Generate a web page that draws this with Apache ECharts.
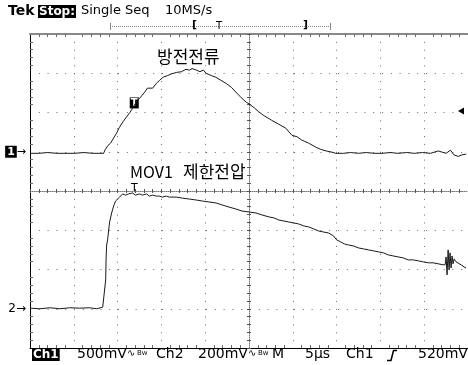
<!DOCTYPE html>
<html>
<head>
<meta charset="utf-8">
<script src="https://cdn.jsdelivr.net/npm/echarts@6/dist/echarts.min.js"></script>
<style>
    html, body { margin: 0; padding: 0; background: #fff; }
    #scope { width: 468px; height: 365px; }
</style>
</head>
<body>
<div id="scope"></div>
<script>
// Ch1 = 방전전류 (discharge current), Ch2 = MOV1 제한전압; time in µs from left edge of screen
const ch1Time = [0, 1.0, 2.0, 3.1, 4.1, 5.1, 6.1, 7.2, 8.0, 8.4,
    8.6, 8.9, 9.2, 9.4, 9.9, 10.2, 10.6, 11.0, 11.4, 11.7,
    12.0, 12.5, 12.8, 13.1, 13.4, 13.6, 14.0, 14.2, 14.5, 14.8,
    15.2, 15.7, 16.1, 16.7, 17.3, 17.8, 18.2, 18.5, 19.0, 19.4,
    19.8, 20.1, 20.7, 21.2, 21.8, 22.4, 23.0, 23.5, 24.1, 24.7,
    25.0, 25.6, 26.1, 26.7, 27.3, 27.6, 28.4, 29.2, 29.9, 30.5,
    31.0, 31.8, 32.6, 33.2, 33.8, 34.3, 34.9, 35.8, 36.6, 37.5,
    38.4, 39.3, 40.2, 41.1, 42.0, 43.0, 43.9, 44.8, 45.7, 46.6,
    47.5, 48.0, 48.4, 48.9, 49.3, 49.8];
const ch1Volt = [-0.02, -0.02, -0.01, -0.02, -0.02, -0.02, -0.01, -0.02, -0.02, -0.02,
    0.03, 0.08, 0.11, 0.13, 0.24, 0.31, 0.38, 0.44, 0.50, 0.55,
    0.61, 0.68, 0.72, 0.76, 0.81, 0.82, 0.81, 0.83, 0.88, 0.91,
    0.95, 0.97, 0.99, 1.01, 1.02, 1.05, 1.04, 1.06, 1.04, 1.02,
    1.04, 1.00, 0.97, 0.95, 0.91, 0.87, 0.82, 0.76, 0.69, 0.63,
    0.61, 0.56, 0.51, 0.46, 0.42, 0.40, 0.35, 0.30, 0.21, 0.19,
    0.15, 0.11, 0.06, 0.03, 0.01, 0.00, -0.02, -0.02, -0.01, -0.02,
    -0.01, -0.02, -0.02, -0.01, -0.02, -0.01, -0.02, -0.01, -0.02, 0.01,
    -0.02, 0.02, -0.04, -0.06, -0.04, -0.03];

const ch2Time = [0.0, 1.14, 2.27, 3.41, 4.55, 5.68, 6.82, 7.61, 8.30, 8.52,
    8.64, 8.69, 8.75, 8.86, 8.98, 9.09, 9.32, 9.55, 9.77, 10.0,
    10.23, 10.57, 10.91, 11.25, 11.70, 12.05, 12.5, 12.84, 13.30, 13.64,
    13.98, 14.43, 14.77, 15.11, 15.57, 15.91, 16.70, 17.39, 18.18, 18.98,
    19.66, 20.45, 21.25, 21.93, 22.73, 23.52, 24.20, 25.0, 25.80, 26.48,
    27.27, 27.84, 28.41, 28.98, 29.55, 30.11, 30.68, 31.25, 31.82, 32.39,
    32.95, 33.52, 34.09, 34.66, 35.0, 35.45, 35.91, 36.36, 36.93, 37.5,
    38.07, 38.64, 39.20, 39.77, 40.34, 40.91, 41.48, 42.05, 42.61, 43.18,
    43.75, 44.32, 44.89, 45.45, 46.02, 46.59, 47.16, 47.39, 47.5, 47.61,
    47.73, 47.84, 47.95, 48.07, 48.18, 48.30, 48.41, 48.64, 48.86, 49.20,
    49.55, 49.77];
const ch2Volt = [0.003, 0.0, 0.005, 0.0, 0.005, 0.003, 0.005, 0.0, 0.008, 0.005,
    0.147, 0.259, 0.325, 0.351, 0.401, 0.442, 0.488, 0.524, 0.549, 0.559,
    0.569, 0.585, 0.579, 0.585, 0.590, 0.579, 0.585, 0.579, 0.585, 0.574,
    0.579, 0.574, 0.574, 0.569, 0.574, 0.569, 0.569, 0.564, 0.559, 0.554,
    0.549, 0.544, 0.539, 0.529, 0.518, 0.508, 0.498, 0.493, 0.488, 0.478,
    0.468, 0.463, 0.452, 0.447, 0.442, 0.437, 0.432, 0.422, 0.417, 0.407,
    0.396, 0.391, 0.386, 0.371, 0.351, 0.341, 0.330, 0.325, 0.320, 0.310,
    0.305, 0.300, 0.295, 0.290, 0.285, 0.274, 0.269, 0.264, 0.259, 0.249,
    0.249, 0.244, 0.239, 0.234, 0.234, 0.229, 0.224, 0.224, 0.264, 0.173,
    0.300, 0.198, 0.285, 0.208, 0.269, 0.229, 0.254, 0.239, 0.234, 0.224,
    0.213, 0.208];

// scope settings (500mV/div, 200mV/div, 5µs/div)
const ch1Range = [-2.5, 1.5];
const ch1Step = 0.5;
const ch2Range = [-0.2, 1.4];
const ch2Step = 0.2;
const timeRange = [0, 50];
const trigTime = 11.9;
const trigLevel = 0.52;
const ch2AtTrig = 0.585;

const myScope = echarts.init(document.getElementById('scope'));

const FONT = '"DejaVu Sans", sans-serif';
const KR = '"Noto Sans CJK KR", sans-serif';
const dotColor = '#6a6a6a';

// frame / graticule axes (divisions)
function divAxis(extra) {
    return Object.assign({
        type: 'value',
        axisLabel: {show: false},
        axisTick: {show: false},
        splitLine: {show: false},
        minorTick: {show: false},
        minorSplitLine: {show: false}
    }, extra);
}

let option = {
    animation: false,
    backgroundColor: '#fff',
    grid: {left: 30, top: 34, width: 440, height: 314},
    xAxis: [
        divAxis({ // bottom frame + vertical dotted lines
            min: -5, max: 5, interval: 1, position: 'bottom',
            axisLine: {onZero: false, lineStyle: {color: '#000', width: 1}},
            axisTick: {show: false, inside: true},
            minorTick: {show: true, splitNumber: 5, length: 3, lineStyle: {color: dotColor}},
            splitLine: {show: true, lineStyle: {color: dotColor, width: 1, type: [1, 6.85]}}
        }),
        divAxis({ // top frame
            min: -5, max: 5, interval: 1, position: 'top',
            axisLine: {onZero: false, lineStyle: {color: '#888', width: 2}},
            axisTick: {show: false, inside: true},
            minorTick: {show: true, splitNumber: 5, length: 3, lineStyle: {color: dotColor}}
        }),
        divAxis({ // center horizontal line
            min: -5, max: 5, interval: 1, position: 'bottom',
            axisLine: {onZero: true, onZeroAxisIndex: 0, lineStyle: {color: '#777', width: 1, type: [1, 1]}},
            axisTick: {show: true, length: 2, lineStyle: {color: '#555'}},
            minorTick: {show: true, splitNumber: 5, length: 2, lineStyle: {color: '#555'}}
        }),
        divAxis({
            min: -5, max: 5, interval: 1, position: 'bottom',
            axisLine: {show: false, onZero: true, onZeroAxisIndex: 0},
            axisTick: {show: true, inside: true, length: 2, lineStyle: {color: '#555'}},
            minorTick: {show: true, splitNumber: 5, length: 2, lineStyle: {color: '#555'}}
        }),
        { // time axis for the traces
            type: 'value', min: timeRange[0], max: timeRange[1], show: false
        }
    ],
    yAxis: [
        divAxis({ // left frame + horizontal dotted lines
            min: -4, max: 4, interval: 1, position: 'left',
            axisLine: {onZero: false, lineStyle: {color: '#000', width: 1}},
            axisTick: {show: false, inside: true},
            minorTick: {show: true, splitNumber: 5, length: 3, lineStyle: {color: dotColor}},
            splitLine: {show: true, lineStyle: {color: dotColor, width: 1, type: [1, 7.8]}}
        }),
        divAxis({ // center vertical line
            min: -4, max: 4, interval: 1, position: 'left',
            axisLine: {onZero: true, onZeroAxisIndex: 0, lineStyle: {color: '#777', width: 1, type: [1, 1]}},
            axisTick: {show: true, length: 2, lineStyle: {color: '#555'}},
            minorTick: {show: true, splitNumber: 5, length: 2, lineStyle: {color: '#555'}}
        }),
        divAxis({
            min: -4, max: 4, interval: 1, position: 'left',
            axisLine: {show: false, onZero: true, onZeroAxisIndex: 0},
            axisTick: {show: true, inside: true, length: 2, lineStyle: {color: '#555'}},
            minorTick: {show: true, splitNumber: 5, length: 2, lineStyle: {color: '#555'}}
        }),
        { // Ch1 volts, ground marker "1→"
            type: 'value', min: ch1Range[0], max: ch1Range[1], interval: ch1Step, position: 'left',
            axisLine: {show: false, onZero: false}, axisTick: {show: false}, splitLine: {show: false},
            axisLabel: {
                margin: 4,
                formatter: v => Math.abs(v) < 1e-6 ? '{b|1}→' : '',
                color: '#000', fontFamily: FONT, fontSize: 11,
                rich: {b: {backgroundColor: '#000', color: '#fff', fontWeight: 'bold', fontSize: 11, padding: [1, 2, 0, 2], fontFamily: FONT}}
            }
        },
        { // Ch2 volts, ground marker "2→"
            type: 'value', min: ch2Range[0], max: ch2Range[1], interval: ch2Step, position: 'left',
            axisLine: {show: false, onZero: false}, axisTick: {show: false}, splitLine: {show: false},
            axisLabel: {
                margin: 4,
                formatter: v => Math.abs(v) < 1e-6 ? '2→' : '',
                color: '#000', fontFamily: FONT, fontSize: 12
            }
        }
    ],
    series: [
        {
            name: 'Ch1',
            type: 'line',
            xAxisIndex: 4,
            yAxisIndex: 3,
            data: ch1Time.map((t, i) => [t, ch1Volt[i]]),
            showSymbol: false,
            lineStyle: {color: '#1a1a1a', width: 1},
            z: 10,
            markPoint: {
                silent: true,
                data: [
                    { // trigger point box
                        coord: [trigTime, trigLevel],
                        symbol: 'rect', symbolSize: [9, 11], symbolOffset: [0, -8],
                        itemStyle: {color: '#000'},
                        label: {show: true, position: 'inside', formatter: 'T', color: '#fff', fontSize: 10, fontWeight: 'bold', fontFamily: FONT}
                    },
                    { // trigger level arrow on the right
                        coord: [49.2, trigLevel],
                        symbol: 'triangle', symbolRotate: 90, symbolSize: [7, 6],
                        itemStyle: {color: '#000'},
                        label: {show: false}
                    }
                ]
            }
        },
        {
            name: 'Ch2',
            type: 'line',
            xAxisIndex: 4,
            yAxisIndex: 4,
            data: ch2Time.map((t, i) => [t, ch2Volt[i]]),
            showSymbol: false,
            lineStyle: {color: '#1a1a1a', width: 1},
            z: 10,
            markPoint: {
                silent: true,
                data: [{
                    coord: [trigTime, ch2AtTrig],
                    symbol: 'rect', symbolSize: 0,
                    label: {show: true, position: 'top', distance: 0, formatter: 'T', color: '#000', fontSize: 11, fontFamily: FONT}
                }]
            }
        }
    ],
    graphic: [
        // header
        {type: 'text', left: 8, top: 4, style: {text: 'Tek', font: 'bold 14px ' + FONT, fill: '#000'}},
        {type: 'text', left: 38, top: 5, style: {text: 'Stop:', font: 'bold 12px ' + FONT, fill: '#fff', backgroundColor: '#000', padding: [1, 1, 0, 1]}},
        {type: 'text', left: 81, top: 4, style: {text: 'Single Seq', font: '13px ' + FONT, fill: '#000'}},
        {type: 'text', left: 165, top: 4, style: {text: '10MS/s', font: '13px ' + FONT, fill: '#000'}},
        // record position bracket
        {type: 'line', shape: {x1: 110, y1: 26.5, x2: 330, y2: 26.5}, style: {stroke: '#888', lineDash: [1, 1], lineWidth: 1}},
        {type: 'line', shape: {x1: 110.5, y1: 23, x2: 110.5, y2: 30}, style: {stroke: '#888', lineWidth: 1}},
        {type: 'line', shape: {x1: 330.5, y1: 23, x2: 330.5, y2: 30}, style: {stroke: '#888', lineWidth: 1}},
        {type: 'text', left: 192, top: 20, style: {text: '[', font: 'bold 11px ' + FONT, fill: '#000'}},
        {type: 'text', left: 216, top: 21, style: {text: 'T', font: '10px ' + FONT, fill: '#000'}},
        {type: 'text', left: 303, top: 20, style: {text: ']', font: 'bold 11px ' + FONT, fill: '#000'}},
        // trace labels
        {type: 'text', left: 157, top: 48, style: {text: '방전전류', font: '17px ' + KR, fill: '#000'}},
        {type: 'text', left: 130, top: 164, style: {text: 'MOV1', font: '16px ' + KR, fill: '#000'}},
        {type: 'text', left: 183, top: 163, style: {text: '제한전압', font: '17px ' + KR, fill: '#000'}},
        // bottom status line
        {type: 'text', left: 32, top: 348, style: {text: 'Ch1', font: 'bold 12px ' + FONT, fill: '#fff', backgroundColor: '#000', padding: [1, 1, 0, 1]}},
        {type: 'text', left: 77, top: 347, style: {text: '500mV', font: '14px ' + FONT, fill: '#000'}},
        {type: 'text', left: 127, top: 348, style: {text: '∿', font: '10px ' + FONT, fill: '#000'}},
        {type: 'text', left: 137, top: 350, style: {text: 'Bw', font: '7px ' + FONT, fill: '#000'}},
        {type: 'text', left: 156, top: 347, style: {text: 'Ch2', font: '14px ' + FONT, fill: '#000'}},
        {type: 'text', left: 198, top: 347, style: {text: '200mV', font: '14px ' + FONT, fill: '#000'}},
        {type: 'text', left: 248, top: 348, style: {text: '∿', font: '10px ' + FONT, fill: '#000'}},
        {type: 'text', left: 258, top: 350, style: {text: 'Bw', font: '7px ' + FONT, fill: '#000'}},
        {type: 'text', left: 272, top: 347, style: {text: 'M', font: '14px ' + FONT, fill: '#000'}},
        {type: 'text', left: 305, top: 347, style: {text: '5µs', font: '14px ' + FONT, fill: '#000'}},
        {type: 'text', left: 346, top: 347, style: {text: 'Ch1', font: '14px ' + FONT, fill: '#000'}},
        {type: 'polyline', shape: {points: [[387, 360.5], [391, 360.5], [393.5, 350.5], [397, 350.5]]}, style: {stroke: '#000', lineWidth: 1.5, fill: null}},
        {type: 'text', left: 418, top: 347, style: {text: '520mV', font: '14px ' + FONT, fill: '#000'}}
    ]
};

myScope.setOption(option);
</script>
</body>
</html>
